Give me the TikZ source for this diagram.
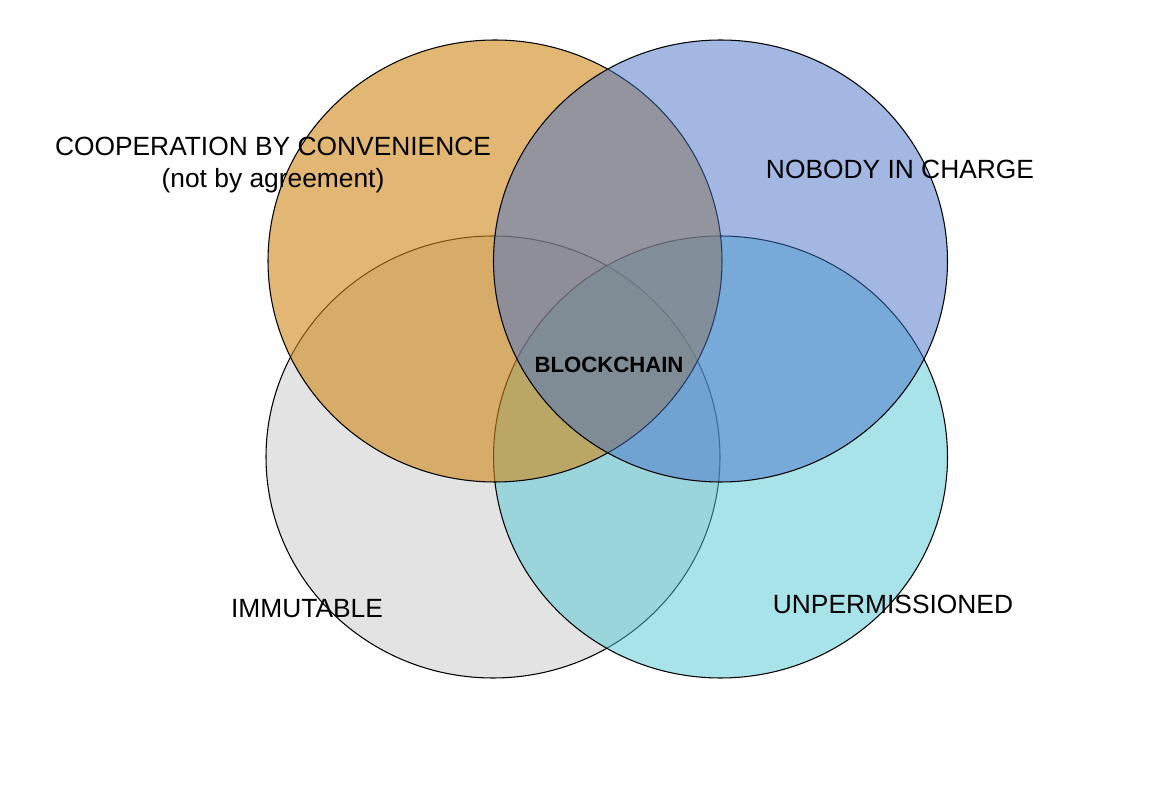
\documentclass[tikz,border=0pt]{standalone}
\usepackage{fontspec}
\setmainfont{Liberation Sans}
\definecolor{immgray}{RGB}{200,200,200}
\definecolor{unpcyan}{RGB}{85,201,215}
\definecolor{coporange}{RGB}{208,135,23}
\definecolor{nobblue}{RGB}{70,115,200}
\begin{document}
\begin{tikzpicture}[venn/.style={draw=black,line width=0.6pt},
                    lab/.style={font=\fontsize{15}{18}\selectfont,align=center}]
            \useasboundingbox (0,0) rectangle (23.28,16.04);
            \fill[white] (0,0) rectangle (23.28,16.04);
            % lower pair first, upper pair on top
            \draw[venn,fill=immgray,fill opacity=0.5] (9.86,6.90) ellipse (4.54 and 4.42);
            \draw[venn,fill=unpcyan,fill opacity=0.5] (14.41,6.90) ellipse (4.54 and 4.42);
            \draw[venn,fill=coporange,fill opacity=0.6] (9.90,10.82) ellipse (4.54 and 4.42);
            \draw[venn,fill=nobblue,fill opacity=0.5] (14.41,10.82) ellipse (4.54 and 4.42);
            \node[lab] (coop) at (5.46,13.12) {COOPERATION BY CONVENIENCE};
            \node[lab] (agree) at (5.46,12.42) {(not by agreement)};
            \node[lab] (nobody) at (18.0,12.66) {NOBODY IN CHARGE};
            \node[lab] (immut) at (6.14,3.86) {IMMUTABLE};
            \node[lab] (unperm) at (17.86,3.96) {UNPERMISSIONED};
            \node[font=\fontsize{12.6}{15}\selectfont\bfseries] (chain) at (12.18,8.74) {BLOCKCHAIN};
\end{tikzpicture}
\end{document}
